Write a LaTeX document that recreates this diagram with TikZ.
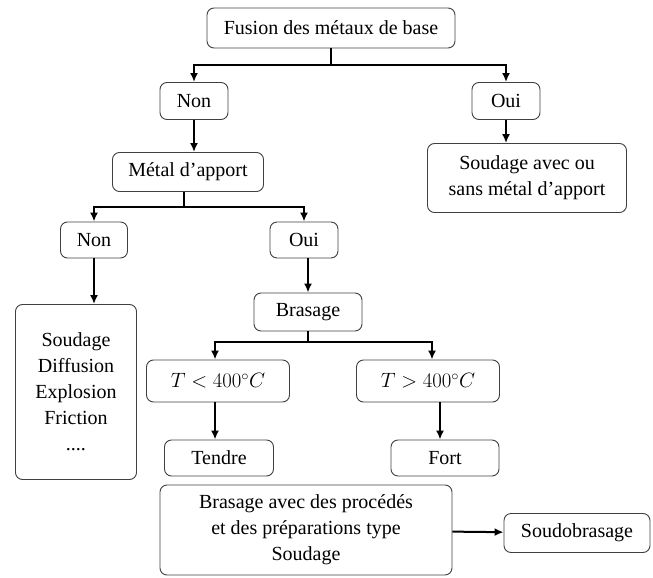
\documentclass[tikz,border=0pt]{standalone}
\usepackage{fontspec}
\setmainfont{Liberation Serif}
\usetikzlibrary{arrows.meta}
\tikzset{line/.style={draw, -{Latex[length=9pt,width=8pt]}, line width=2pt}}

\begin{document}
\begin{tikzpicture}[x=1pt, y=-1pt, font=\fontsize{20}{26}\selectfont,
  box/.style = {draw=black!75, line width=0.9pt, rounded corners=7pt, align=center, inner sep=2pt}]
\useasboundingbox (0,0) rectangle (653,578);
% top levels
\node[box, minimum width=248pt, minimum height=40pt] (fusion) at (331,28) {Fusion des métaux de base};
\node[box, minimum width=68pt, minimum height=37pt] (non1) at (194,101) {Non};
\node[box, minimum width=68pt, minimum height=37pt] (oui1) at (506,101) {Oui};
\node[box, minimum width=199pt, minimum height=69pt] (soud) at (527,178) {Soudage avec ou\\sans métal d’apport};
\node[box, minimum width=151pt, minimum height=39pt] (metal) at (188,172) {Métal d’apport};
\node[box, minimum width=67pt, minimum height=36pt] (non2) at (94,240) {Non};
\node[box, minimum width=68pt, minimum height=36pt] (oui2) at (304,240) {Oui};
\node[box, minimum width=121pt, minimum height=175pt] (solide) at (76,392) {Soudage\\Diffusion\\Explosion\\Friction\\....};
% brasage branch
\node[box, minimum width=108pt, minimum height=38pt] (bras) at (308,312) {Brasage};
\node[box, minimum width=143pt, minimum height=42pt] (tinf) at (218,381) {$T < 400^\circ C$};
\node[box, minimum width=143pt, minimum height=42pt] (tsup) at (428,381) {$T > 400^\circ C$};
\node[box, minimum width=109pt, minimum height=36pt] (tendre) at (219,458) {Tendre};
\node[box, minimum width=108pt, minimum height=36pt] (fort) at (445,458) {Fort};
\node[box, minimum width=292pt, minimum height=90pt] (grand) at (306,530) {Brasage avec des procédés\\et des préparations type\\Soudage};
\node[box, minimum width=146pt, minimum height=39pt] (soudob) at (577,533) {Soudobrasage};

\draw[line] (fusion.south) -- ++(0,17) coordinate (f1) -| (non1);
\draw[line] (f1) -| (oui1);
\draw[line] (oui1) -- (oui1 |- soud.north);
\draw[line] (non1) -- (non1 |- metal.north);
\draw[line] (metal.south) ++(-4,0) coordinate (m0) -- ++(0,15) coordinate (m1) -| (non2);
\draw[line] (m1) -| (oui2);
\draw[line] (non2) -- (non2 |- solide.north);
\draw[line] (oui2.south) ++(4,0) -- (bras.north);
\draw[line] (bras.south) -- ++(0,11) coordinate (b1) -| ([xshift=-3pt]tinf.north);
\draw[line] (b1) -| ([xshift=4pt]tsup.north);
\draw[line] ([xshift=-3pt]tinf.south) -- ([xshift=-3pt]tinf.south |- tendre.north);
\draw[line] ([xshift=12pt]tsup.south) -- ([xshift=12pt]tsup.south |- fort.north);
\draw[line] (grand) -- (soudob);
\end{tikzpicture}
\end{document}
